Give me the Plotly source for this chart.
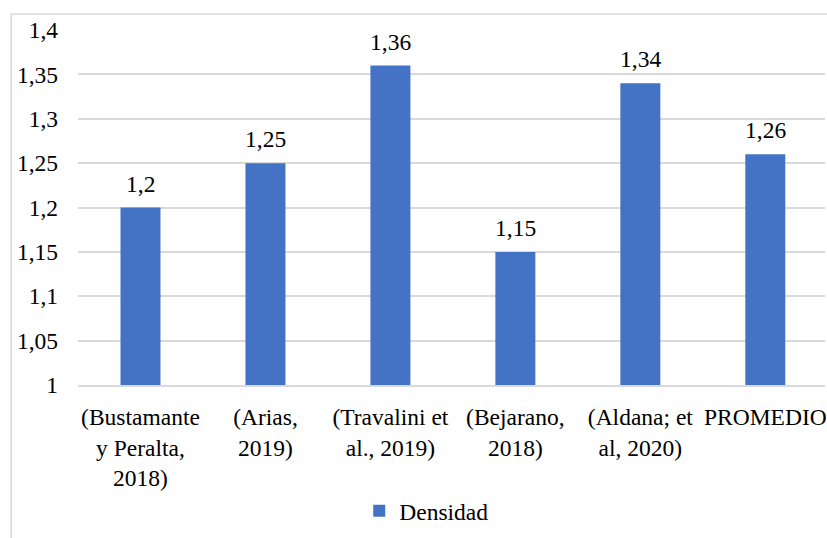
import plotly.graph_objects as go

# Densidad por autor
categorias = [
    "(Bustamante<br>y Peralta,<br>2018)",
    "(Arias,<br>2019)",
    "(Travalini et<br>al., 2019)",
    "(Bejarano,<br>2018)",
    "(Aldana; et<br>al, 2020)",
    "PROMEDIO",
]
densidad = [1.2, 1.25, 1.36, 1.15, 1.34, 1.26]
etiquetas = [str(v).replace(".", ",") for v in densidad]

AZUL = "#4472C4"
GRIS = "#D9D9D9"
FUENTE = "Liberation Serif"
TAM = 23.5

W, H = 827, 538
ML, MR, MT, MB = 78, 0, 30, 153
plot_w = W - ML - MR
plot_h = H - MT - MB
banda = 125.3

fig = go.Figure()
fig.add_trace(go.Bar(
    x=list(range(len(categorias))),
    y=densidad,
    name="Densidad",
    marker=dict(color=AZUL, line=dict(width=0)),
    showlegend=True,
))

for i, (v, t) in enumerate(zip(densidad, etiquetas)):
    fig.add_annotation(
        x=i, y=v, text=t, showarrow=False,
        yanchor="bottom", yshift=9,
        font=dict(family=FUENTE, size=TAM, color="#000000"),
    )

# Marco del gráfico
fig.add_shape(
    type="rect", xref="paper", yref="paper",
    x0=(11 - ML) / plot_w, x1=1.05,
    y0=-0.6, y1=(MT + plot_h - 14) / plot_h,
    line=dict(color=GRIS, width=1.5), fillcolor="rgba(0,0,0,0)",
    layer="below",
)

fig.update_layout(
    width=W, height=H,
    margin=dict(l=ML, r=MR, t=MT, b=MB),
    paper_bgcolor="white", plot_bgcolor="white",
    separators=", ",
    font=dict(family=FUENTE, size=TAM, color="#000000"),
    bargap=0.68,
    showlegend=True,
    legend=dict(
        orientation="h", x=(360 - ML) / plot_w, xanchor="left",
        y=(MT + plot_h - 511) / plot_h, yanchor="middle",
        font=dict(family=FUENTE, size=TAM, color="#000000"),
        bgcolor="rgba(0,0,0,0)",
    ),
    xaxis=dict(
        tickmode="array",
        tickvals=list(range(len(categorias))),
        ticktext=categorias,
        range=[-0.5, -0.5 + plot_w / banda],
        showgrid=False,
        showline=True, linecolor=GRIS, linewidth=1.5,
        ticks="", ticklabelstandoff=10,
        ticklabeloverflow="allow",
        tickfont=dict(family=FUENTE, size=TAM, color="#000000"),
    ),
    yaxis=dict(
        range=[1, 1.4],
        dtick=0.05, tick0=1,
        showgrid=True, gridcolor=GRIS, gridwidth=1.5,
        zeroline=False, showline=False,
        ticks="", ticklabelstandoff=19,
        tickfont=dict(family=FUENTE, size=TAM, color="#000000"),
    ),
)

fig.write_html("out.html")
